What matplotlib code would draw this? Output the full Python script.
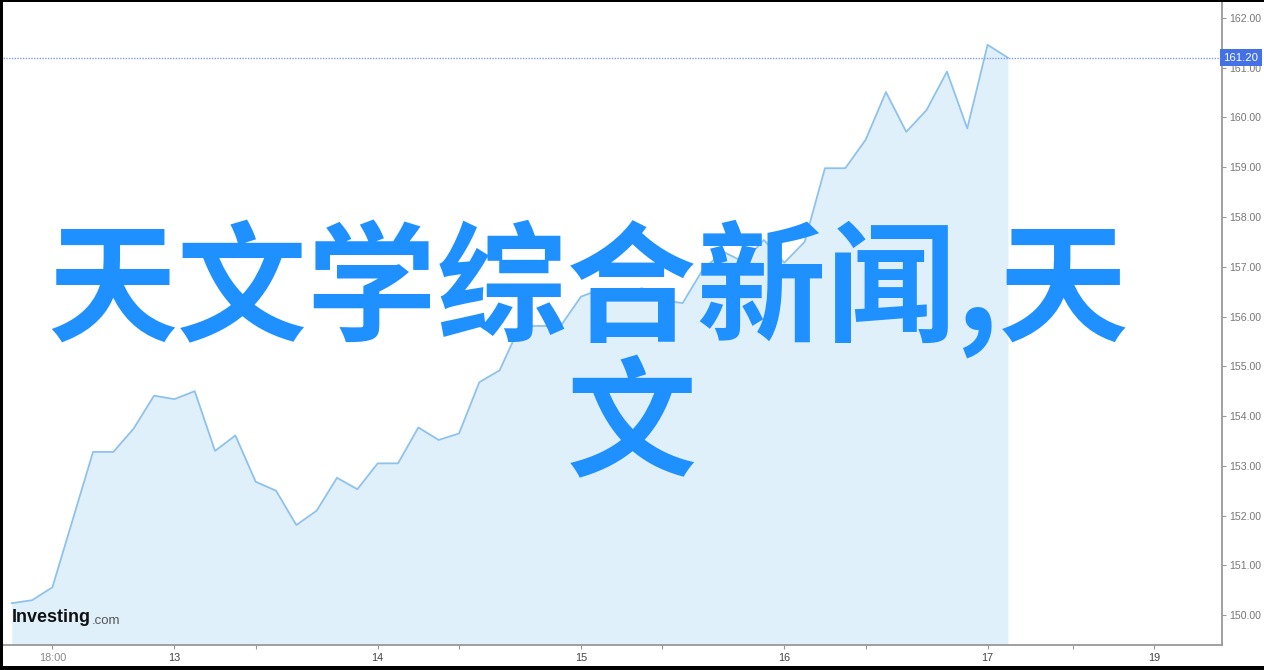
import matplotlib.pyplot as plt
import matplotlib.patches as mpatches
import numpy as np

# price series (one point per bar)
prices = [150.24, 150.30, 150.56, 151.92, 153.28, 153.28, 153.75, 154.41, 154.34, 154.50,
          153.30, 153.61, 152.68, 152.50, 151.81, 152.10, 152.76, 152.53, 153.05, 153.05,
          153.77, 153.52, 153.65, 154.68, 154.92, 155.81, 155.81, 155.81, 156.40, 156.55,
          156.43, 156.57, 156.33, 156.27, 156.95, 157.30, 157.10, 157.54, 157.08, 157.50,
          158.98, 158.98, 159.55, 160.51, 159.71, 160.15, 160.92, 159.78, 161.46, 161.20]
last_price = 161.20
xtick_pos = [2, 8, 12, 18, 22, 28, 32, 38, 42, 48, 52.2, 56.2]
xtick_labels = ["18:00", "13", "", "14", "", "15", "", "16", "", "17", "", "19"]
yticks = [150, 151, 152, 153, 154, 155, 156, 157, 158, 159, 160, 161, 162]
title_line1 = "天文学综合新闻,天"
title_line2 = "文"

W, H = 1264, 670
fig = plt.figure(figsize=(W / 100, H / 100), dpi=100)
ax = fig.add_axes([3 / W, 25 / H, (1222 - 3) / W, (668 - 25) / H])

x = np.arange(len(prices))
ybot = 149.40
ax.fill_between(x, prices, ybot, color="#E0F0FA", lw=0)
ax.plot(x, prices, color="#8EC2EE", lw=1.3)
ax.axhline(last_price, color="#7F9CF5", lw=1, ls=(0, (1, 1)))

ax.set_xlim(-0.43, 59.53)
ax.set_ylim(ybot, 162.32)

ax.yaxis.tick_right()
ax.set_yticks(yticks)
ax.set_yticklabels(["%.2f" % v for v in yticks], fontsize=7.6, color="#777777",
                   family="Liberation Sans")
ax.tick_params(axis="y", length=3, width=0.8, color="#999999", pad=2)

ax.set_xticks(xtick_pos)
ax.set_xticklabels(xtick_labels, fontsize=7.8, family="Liberation Sans")
for lbl in ax.get_xticklabels():
    lbl.set_color("#888888" if ":" in lbl.get_text() else "#444444")
ax.tick_params(axis="x", length=3, width=0.8, color="#999999", pad=3)

for s in ["top", "left"]:
    ax.spines[s].set_visible(False)
for s in ["right", "bottom"]:
    ax.spines[s].set_color("#999999")
    ax.spines[s].set_linewidth(1.3)

# current price tag on the right axis
ax.text(1.001, last_price, "%.2f" % last_price, transform=ax.get_yaxis_transform(),
        ha="left", va="center", fontsize=8.2, color="white", family="Liberation Sans",
        bbox=dict(boxstyle="square,pad=0.3", fc="#4472E6", ec="none"))

# watermark logo
ax.text(0.0075, 0.043, "Investing", transform=ax.transAxes, fontsize=13,
        fontweight="bold", color="#111111", family="Liberation Sans", va="center", ha="left")
ax.text(0.0732, 0.038, ".com", transform=ax.transAxes, fontsize=9.5,
        color="#555555", family="Liberation Sans", va="center", ha="left")

# big overlay title
fam = ["Noto Sans CJK SC", "DejaVu Sans"]
fig.text(47 / W, 1 - 290 / H, title_line1, fontsize=93.5, fontweight="bold",
         color="#1E90FF", family=fam, ha="left", va="center")
fig.text(632 / W, 1 - 428 / H, title_line2, fontsize=93.5, fontweight="bold",
         color="#1E90FF", family=fam, ha="center", va="center")

# black frame edges
for (x0, y0, w, h) in [(0, 0, 3, H), (0, H - 2, W, 2), (0, 0, W, 4)]:
    fig.add_artist(mpatches.Rectangle((x0 / W, y0 / H), w / W, h / H, color="black",
                                      transform=fig.transFigure, lw=0))

fig.savefig("out.png", dpi=100)
